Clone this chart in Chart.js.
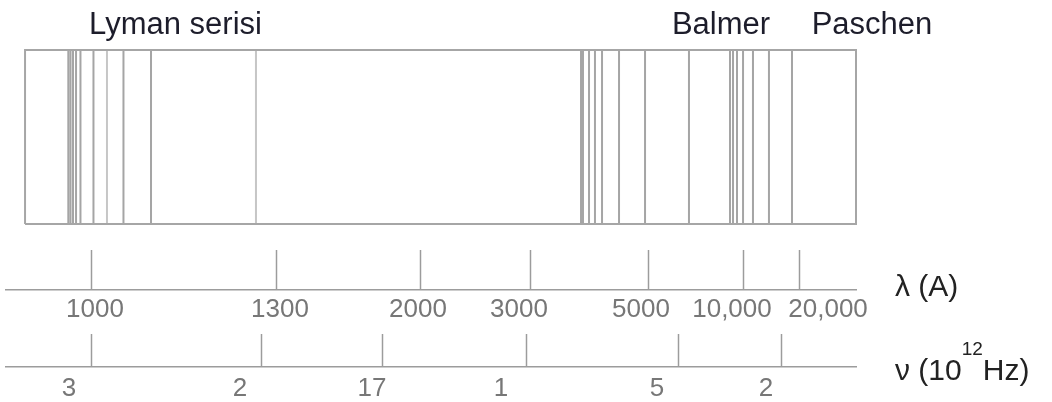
<!DOCTYPE html>
<html lang="tr">
<head>
<meta charset="UTF-8">
<title>Hidrojen spektrumu</title>
<script src="https://cdn.jsdelivr.net/npm/chart.js@4.4.1/dist/chart.umd.min.js"></script>
<style>
    html, body { margin: 0; padding: 0; background: #fff; }
    .chart-box { position: relative; width: 1052px; height: 402px; }
</style>
</head>
<body>
<div class="chart-box"><canvas id="spectrum-chart"></canvas></div>
<script>
// Positions along the schematic strip (0 = left end of the axes, 100 = right end of the strip)
const stripEdges = [2.24, 100];
const lymanLines = [7.33, 7.59, 7.88, 8.24, 8.76, 10.29, 13.82, 17.06];
const faintLines = [11.88, 29.41];
const balmerLines = [67.65, 67.88, 68.59, 69.29, 70.12, 72.12, 75.18, 80.35];
const paschenLines = [85.18, 85.53, 86.00, 86.71, 87.88, 89.76, 92.47];

// Series names over the strip
const seriesNames = ['Lyman serisi', 'Balmer', 'Paschen'];
const seriesNamePos = [19.94, 84.12, 101.88];

// Wavelength axis
const lamTickPos = [10.0, 31.88, 48.71, 61.65, 75.53, 86.82, 93.41];
const lamLabelPos = [10.47, 32.24, 48.47, 60.35, 74.71, 85.41, 96.71];
const lamLabels = ['1000', '1300', '2000', '3000', '5000', '10,000', '20,000'];

// Frequency axis
const nuTickPos = [10.0, 30.0, 44.35, 61.29, 79.06, 91.18];
const nuLabelPos = [7.41, 27.53, 43.06, 58.24, 76.59, 89.41];
const nuLabels = ['3', '2', '17', '1', '5', '2'];

const yFloor = -0.15; // leaves room between the strip and the first axis

function toSegments(positions) {
    const pts = [];
    positions.forEach(p => {
        pts.push({x: p, y: 0}, {x: p, y: 1}, {x: p, y: null});
    });
    return pts;
}

function fixedTicks(values) {
    return scale => {
        scale.ticks = values.map(v => ({value: v}));
    };
}

const axisGray = '#9c9c9c';
const fontFamily = '"Liberation Sans", Arial, sans-serif';

// Text around the chart: series names and axis names
const textPlugin = {
    id: 'spectrumText',
    afterDraw(chart) {
        const {ctx, chartArea, scales} = chart;
        ctx.save();
        ctx.textBaseline = 'alphabetic';
        ctx.font = '31px ' + fontFamily;
        ctx.fillStyle = '#1d1d2b';
        ctx.textAlign = 'center';
        seriesNames.forEach((name, i) => {
            ctx.fillText(name, scales.x.getPixelForValue(seriesNamePos[i]), 34);
        });

        ctx.textAlign = 'left';
        ctx.fillStyle = '#222';
        ctx.font = '30px ' + fontFamily;
        const left = chartArea.right + 39;
        ctx.fillText('λ (A)', left, scales.xLamText.top + 6);

        const yNu = scales.xNuText.top + 13;
        let x = left;
        ctx.fillText('ν (10', x, yNu);
        x += ctx.measureText('ν (10').width;
        ctx.font = '19px ' + fontFamily;
        ctx.fillText('12', x, yNu - 25);
        x += ctx.measureText('12').width;
        ctx.font = '30px ' + fontFamily;
        ctx.fillText('Hz)', x, yNu);
        ctx.restore();
    }
};

document.addEventListener('DOMContentLoaded', function() {
    const ctx = document.getElementById('spectrum-chart').getContext('2d');
    const lineStyle = {pointRadius: 0, fill: false, tension: 0, borderWidth: 2};
    const lineColor = 'rgba(100,100,100,0.58)';

    new Chart(ctx, {
        type: 'line',
        data: {
            datasets: [{
                label: 'strip',
                data: [
                    {x: stripEdges[0], y: 0}, {x: stripEdges[1], y: 0},
                    {x: stripEdges[1], y: 1}, {x: stripEdges[0], y: 1},
                    {x: stripEdges[0], y: 0}
                ],
                borderColor: '#a6a6a6',
                clip: false,
                ...lineStyle
            }, {
                label: 'Lyman',
                data: toSegments(lymanLines),
                borderColor: lineColor,
                ...lineStyle
            }, {
                label: 'faint',
                data: toSegments(faintLines),
                borderColor: 'rgba(120,120,120,0.42)',
                ...lineStyle
            }, {
                label: 'Balmer',
                data: toSegments(balmerLines),
                borderColor: lineColor,
                ...lineStyle
            }, {
                label: 'Paschen',
                data: toSegments(paschenLines),
                borderColor: lineColor,
                ...lineStyle
            }]
        },
        options: {
            responsive: true,
            maintainAspectRatio: false,
            animation: false,
            spanGaps: false,
            // the last label row is allowed to run past the bottom edge
            layout: {padding: {top: 50, left: 6, right: 196, bottom: -9.4}},
            plugins: {
                legend: {display: false},
                tooltip: {enabled: false}
            },
            scales: {
                x: {type: 'linear', min: 0, max: 100, display: false},
                y: {type: 'linear', min: yFloor, max: 1, display: false},
                // wavelength tick marks
                xLam: {
                    type: 'linear', min: 0, max: 100, position: 'bottom', weight: 1,
                    afterBuildTicks: fixedTicks(lamTickPos),
                    border: {display: false},
                    grid: {drawOnChartArea: false, drawTicks: true, tickLength: 40, tickColor: axisGray, tickWidth: 1.5},
                    ticks: {display: false}
                },
                // wavelength axis line and labels
                xLamText: {
                    type: 'linear', min: 0, max: 100, position: 'bottom', weight: 2,
                    afterBuildTicks: fixedTicks(lamLabelPos),
                    border: {display: true, color: axisGray, width: 1.5},
                    grid: {display: false, drawTicks: false},
                    ticks: {
                        padding: 4.5, autoSkip: false, maxRotation: 0, color: '#777',
                        font: {family: fontFamily, size: 26},
                        callback: (value, index) => lamLabels[index]
                    }
                },
                // frequency tick marks (top part hidden by the dash pattern)
                xNu: {
                    type: 'linear', min: 0, max: 100, position: 'bottom', weight: 3,
                    afterBuildTicks: fixedTicks(nuTickPos),
                    border: {display: false},
                    grid: {
                        drawOnChartArea: false, drawTicks: true, tickLength: 37,
                        tickColor: axisGray, tickWidth: 1.5,
                        tickBorderDash: [33, 4], tickBorderDashOffset: 33
                    },
                    ticks: {display: false}
                },
                // frequency axis line and labels
                xNuText: {
                    type: 'linear', min: 0, max: 100, position: 'bottom', weight: 4,
                    afterBuildTicks: fixedTicks(nuLabelPos),
                    border: {display: true, color: axisGray, width: 1.5},
                    grid: {display: false, drawTicks: false},
                    ticks: {
                        padding: 6.5, autoSkip: false, maxRotation: 0, color: '#777',
                        font: {family: fontFamily, size: 26},
                        callback: (value, index) => nuLabels[index]
                    }
                }
            }
        },
        plugins: [textPlugin]
    });
});
</script>
</body>
</html>
